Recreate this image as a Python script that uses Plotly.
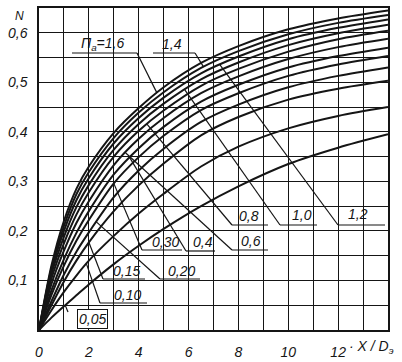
import plotly.graph_objects as go
import numpy as np

# ---- data ----
x_vals = [0, 0.5, 1, 1.5, 2, 3, 4, 5, 6.5, 8, 10, 12, 14]
n_160 = [0, 0.13, 0.22, 0.285, 0.33, 0.398, 0.448, 0.49, 0.539, 0.573, 0.607, 0.629, 0.645]
n_140 = [0, 0.125, 0.21, 0.274, 0.319, 0.388, 0.439, 0.48, 0.529, 0.563, 0.597, 0.62, 0.636]
n_120 = [0, 0.12, 0.20, 0.262, 0.307, 0.377, 0.428, 0.469, 0.518, 0.552, 0.587, 0.61, 0.627]
n_100 = [0, 0.113, 0.188, 0.248, 0.293, 0.364, 0.416, 0.457, 0.506, 0.54, 0.575, 0.599, 0.616]
n_080 = [0, 0.104, 0.175, 0.233, 0.278, 0.35, 0.402, 0.443, 0.493, 0.527, 0.562, 0.587, 0.604]
n_060 = [0, 0.093, 0.16, 0.216, 0.26, 0.333, 0.386, 0.428, 0.478, 0.512, 0.547, 0.571, 0.588]
n_040 = [0, 0.08, 0.143, 0.196, 0.24, 0.314, 0.367, 0.41, 0.461, 0.495, 0.53, 0.553, 0.57]
n_030 = [0, 0.071, 0.13, 0.18, 0.222, 0.296, 0.349, 0.392, 0.444, 0.478, 0.513, 0.536, 0.553]
n_020 = [0, 0.058, 0.112, 0.158, 0.197, 0.268, 0.322, 0.366, 0.42, 0.455, 0.49, 0.513, 0.53]
n_015 = [0, 0.05, 0.098, 0.14, 0.177, 0.24, 0.292, 0.336, 0.393, 0.43, 0.465, 0.487, 0.503]
n_010 = [0, 0.04, 0.077, 0.11, 0.14, 0.19, 0.235, 0.275, 0.33, 0.37, 0.407, 0.432, 0.45]
n_005 = [0, 0.025, 0.048, 0.07, 0.092, 0.133, 0.17, 0.204, 0.25, 0.29, 0.335, 0.368, 0.395]

curve_names = ["1,6", "1,4", "1,2", "1,0", "0,8", "0,6", "0,4", "0,30", "0,20", "0,15", "0,10", "0,05"]
curves = [n_160, n_140, n_120, n_100, n_080, n_060, n_040, n_030, n_020, n_015, n_010, n_005]

x_tick_vals = [0, 2, 4, 6, 8, 10, 12]
x_tick_text = ["0", "2", "4", "6", "8", "10", "12"]
y_tick_vals = [0.1, 0.2, 0.3, 0.4, 0.5, 0.6]
y_tick_text = ["0,1", "0,2", "0,3", "0,4", "0,5", "0,6"]

# ---- layout geometry ----
W, H = 402, 362
L, R, T, B = 39, 14, 8, 32
XMAX, YMAX = 14, 0.65

def dx(px):
    return (px - L) / (W - L - R) * XMAX

def dy(py):
    return (H - B - py) / (H - B - T) * YMAX

def paper_x(px):
    return (px - L) / (W - L - R)

def paper_y(py):
    return (H - B - py) / (H - B - T)

INK = "#151515"
FONT = "Liberation Sans"

fig = go.Figure()
for name, c in zip(curve_names, curves):
    fig.add_trace(go.Scatter(x=x_vals, y=c, mode="lines", name=name,
                             line=dict(color=INK, width=2, shape="spline", smoothing=0.8),
                             showlegend=False, hoverinfo="skip"))

shapes = []
annots = []

# label specs: text, text centre (px), underline (x0, x1, y) or None, leader start (px), tip X, curve, boxed
labels = [
    ("П<sub>a</sub>=1,6", (102, 44), (72, 137, 53), (137, 53), 4.73, n_160, False),
    ("1,4", (172, 44), (153, 195, 53), (195, 53), 6.6, n_140, False),
    ("1,2", (358, 214), (338, 385, 225), (338, 225), 7.26, n_120, False),
    ("1,0", (302, 215), (280, 317, 225), (280, 225), 5.85, n_100, False),
    ("0,8", (249, 216), (232, 268, 225), (232, 225), 4.33, n_080, False),
    ("0,6", (251, 241), (232, 268, 250), (232, 250), 3.47, n_060, False),
    ("0,4", (203, 242), (186, 215, 251), (186, 251), 3.64, n_040, False),
    ("0,30", (165, 242), (142, 182, 250), (142, 250), 3.0, n_030, False),
    ("0,20", (181, 271), (160, 200, 279), (160, 279), 2.3, n_020, False),
    ("0,15", (126, 271), (103, 145, 279), (103, 279), 2.0, n_015, False),
    ("0,10", (127, 295), (100, 147, 303), (100, 303), 1.9, n_010, False),
    ("0,05", (92, 319), None, (68, 312), 1.05, n_005, True),
]

for text, (cx, cy), ul, (sx, sy), tipx, curve, boxed in labels:
    annots.append(dict(x=dx(cx), y=dy(cy), xref="x", yref="y", text="<i>" + text + "</i>",
                       showarrow=False, font=dict(family=FONT, size=14, color=INK),
                       xanchor="center", yanchor="middle",
                       bordercolor=INK if boxed else "rgba(0,0,0,0)", borderwidth=1 if boxed else 0,
                       borderpad=1, bgcolor="white" if boxed else "rgba(0,0,0,0)"))
    if ul is not None:
        shapes.append(dict(type="line", xref="x", yref="y", x0=dx(ul[0]), x1=dx(ul[1]),
                           y0=dy(ul[2]), y1=dy(ul[2]), line=dict(color=INK, width=1.2)))
    tipy = float(np.interp(tipx, x_vals, curve))
    shapes.append(dict(type="line", xref="x", yref="y", x0=dx(sx), y0=dy(sy), x1=tipx, y1=tipy,
                       line=dict(color=INK, width=1.2)))

# axis letters (outside the plot area, so paper coordinates)
annots.append(dict(x=paper_x(19), y=paper_y(16), xref="paper", yref="paper", text="<i>N</i>",
                   showarrow=False, xanchor="center", yanchor="middle",
                   font=dict(family=FONT, size=12, color=INK)))
annots.append(dict(x=paper_x(347), y=paper_y(347), xref="paper", yref="paper",
                   text="<i>· X / D<sub>э</sub></i>",
                   showarrow=False, xanchor="left", yanchor="middle",
                   font=dict(family=FONT, size=14, color=INK)))

fig.update_layout(
    width=W, height=H, margin=dict(l=L, r=R, t=T, b=B, autoexpand=False),
    paper_bgcolor="white", plot_bgcolor="white",
    shapes=shapes, annotations=annots,
    xaxis=dict(range=[0, XMAX], tickvals=x_tick_vals, ticktext=["<i>%s</i>" % t for t in x_tick_text],
               showgrid=True, gridcolor=INK, gridwidth=1,
               minor=dict(dtick=1, tick0=0, showgrid=True, gridcolor=INK, gridwidth=1),
               showline=True, linecolor=INK, linewidth=1.5, mirror=True,
               zeroline=False, ticks="", ticklabelstandoff=8, automargin=False,
               tickfont=dict(family=FONT, size=14, color=INK), fixedrange=True),
    yaxis=dict(range=[0, YMAX], tickvals=y_tick_vals, ticktext=["<i>%s</i>" % t for t in y_tick_text],
               showgrid=True, gridcolor=INK, gridwidth=1,
               minor=dict(dtick=0.05, tick0=0, showgrid=True, gridcolor=INK, gridwidth=1),
               showline=True, linecolor=INK, linewidth=1.5, mirror=True,
               zeroline=False, ticks="", ticklabelstandoff=7, automargin=False,
               tickfont=dict(family=FONT, size=14, color=INK), fixedrange=True),
)

fig.write_html("out.html", config={"displayModeBar": False},
               post_script="document.body.style.margin='0px';document.body.style.padding='0px';")
